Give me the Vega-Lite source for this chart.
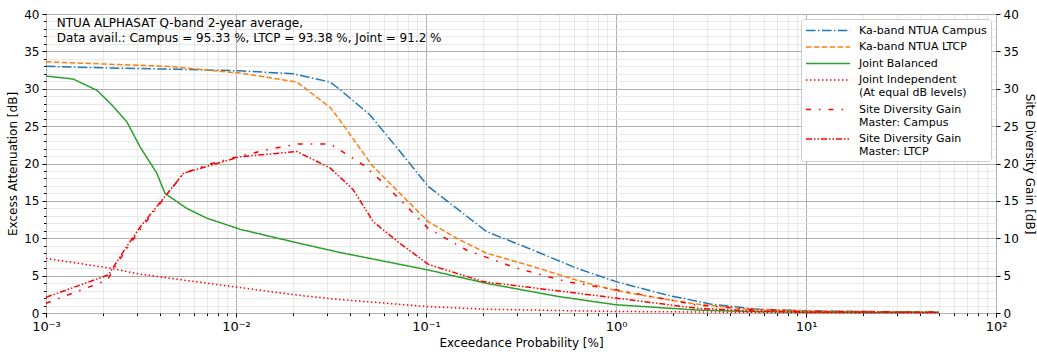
{
  "$schema": "https://vega.github.io/schema/vega-lite/v6.json",
  "width": 950,
  "height": 299,
  "autosize": {"type": "none"},
  "padding": {"left": 46, "top": 14, "right": 41, "bottom": 43},
  "background": "white",
  "datasets": {
    "curves": [
      {"series": "Ka-band NTUA Campus", "p": 0.001, "val": 33.0},
      {"series": "Ka-band NTUA Campus", "p": 0.002, "val": 32.8},
      {"series": "Ka-band NTUA Campus", "p": 0.005, "val": 32.6},
      {"series": "Ka-band NTUA Campus", "p": 0.0105, "val": 32.4},
      {"series": "Ka-band NTUA Campus", "p": 0.02, "val": 32.0},
      {"series": "Ka-band NTUA Campus", "p": 0.0313, "val": 30.9},
      {"series": "Ka-band NTUA Campus", "p": 0.0352, "val": 29.9},
      {"series": "Ka-band NTUA Campus", "p": 0.0507, "val": 26.5},
      {"series": "Ka-band NTUA Campus", "p": 0.073, "val": 21.6},
      {"series": "Ka-band NTUA Campus", "p": 0.103, "val": 16.9},
      {"series": "Ka-band NTUA Campus", "p": 0.145, "val": 14.0},
      {"series": "Ka-band NTUA Campus", "p": 0.208, "val": 10.9},
      {"series": "Ka-band NTUA Campus", "p": 0.367, "val": 8.4},
      {"series": "Ka-band NTUA Campus", "p": 0.62, "val": 6.0},
      {"series": "Ka-band NTUA Campus", "p": 1.0, "val": 4.2},
      {"series": "Ka-band NTUA Campus", "p": 1.85, "val": 2.4},
      {"series": "Ka-band NTUA Campus", "p": 3.13, "val": 1.2},
      {"series": "Ka-band NTUA Campus", "p": 5.5, "val": 0.5},
      {"series": "Ka-band NTUA Campus", "p": 10, "val": 0.3},
      {"series": "Ka-band NTUA Campus", "p": 20, "val": 0.2},
      {"series": "Ka-band NTUA Campus", "p": 50, "val": 0.1},

      {"series": "Ka-band NTUA LTCP", "p": 0.001, "val": 33.6},
      {"series": "Ka-band NTUA LTCP", "p": 0.0043, "val": 33.0},
      {"series": "Ka-band NTUA LTCP", "p": 0.0105, "val": 32.1},
      {"series": "Ka-band NTUA LTCP", "p": 0.0209, "val": 30.9},
      {"series": "Ka-band NTUA LTCP", "p": 0.0313, "val": 27.5},
      {"series": "Ka-band NTUA LTCP", "p": 0.0352, "val": 25.8},
      {"series": "Ka-band NTUA LTCP", "p": 0.0518, "val": 19.8},
      {"series": "Ka-band NTUA LTCP", "p": 0.073, "val": 16.0},
      {"series": "Ka-band NTUA LTCP", "p": 0.103, "val": 12.2},
      {"series": "Ka-band NTUA LTCP", "p": 0.145, "val": 10.0},
      {"series": "Ka-band NTUA LTCP", "p": 0.208, "val": 8.0},
      {"series": "Ka-band NTUA LTCP", "p": 0.367, "val": 6.2},
      {"series": "Ka-band NTUA LTCP", "p": 0.62, "val": 4.4},
      {"series": "Ka-band NTUA LTCP", "p": 1.0, "val": 3.0},
      {"series": "Ka-band NTUA LTCP", "p": 1.85, "val": 1.8},
      {"series": "Ka-band NTUA LTCP", "p": 2.66, "val": 1.2},
      {"series": "Ka-band NTUA LTCP", "p": 5, "val": 0.5},
      {"series": "Ka-band NTUA LTCP", "p": 10, "val": 0.3},
      {"series": "Ka-band NTUA LTCP", "p": 20, "val": 0.2},
      {"series": "Ka-band NTUA LTCP", "p": 50, "val": 0.1},

      {"series": "Joint Balanced", "p": 0.001, "val": 31.7},
      {"series": "Joint Balanced", "p": 0.00139, "val": 31.3},
      {"series": "Joint Balanced", "p": 0.00185, "val": 29.8},
      {"series": "Joint Balanced", "p": 0.00217, "val": 28.1},
      {"series": "Joint Balanced", "p": 0.00266, "val": 25.6},
      {"series": "Joint Balanced", "p": 0.00313, "val": 22.2},
      {"series": "Joint Balanced", "p": 0.00383, "val": 18.7},
      {"series": "Joint Balanced", "p": 0.00423, "val": 16.0},
      {"series": "Joint Balanced", "p": 0.0055, "val": 14.0},
      {"series": "Joint Balanced", "p": 0.007, "val": 12.7},
      {"series": "Joint Balanced", "p": 0.0105, "val": 11.2},
      {"series": "Joint Balanced", "p": 0.0209, "val": 9.4},
      {"series": "Joint Balanced", "p": 0.0352, "val": 8.1},
      {"series": "Joint Balanced", "p": 0.103, "val": 5.75},
      {"series": "Joint Balanced", "p": 0.208, "val": 3.97},
      {"series": "Joint Balanced", "p": 0.5, "val": 2.2},
      {"series": "Joint Balanced", "p": 1.0, "val": 1.1},
      {"series": "Joint Balanced", "p": 2.66, "val": 0.4},
      {"series": "Joint Balanced", "p": 5, "val": 0.2},
      {"series": "Joint Balanced", "p": 10, "val": 0.1},
      {"series": "Joint Balanced", "p": 50, "val": 0.05},

      {"series": "Joint Independent (At equal dB levels)", "p": 0.001, "val": 7.3},
      {"series": "Joint Independent (At equal dB levels)", "p": 0.00217, "val": 6.0},
      {"series": "Joint Independent (At equal dB levels)", "p": 0.00313, "val": 5.2},
      {"series": "Joint Independent (At equal dB levels)", "p": 0.0053, "val": 4.4},
      {"series": "Joint Independent (At equal dB levels)", "p": 0.0105, "val": 3.4},
      {"series": "Joint Independent (At equal dB levels)", "p": 0.0209, "val": 2.4},
      {"series": "Joint Independent (At equal dB levels)", "p": 0.0352, "val": 1.8},
      {"series": "Joint Independent (At equal dB levels)", "p": 0.103, "val": 0.85},
      {"series": "Joint Independent (At equal dB levels)", "p": 0.208, "val": 0.5},
      {"series": "Joint Independent (At equal dB levels)", "p": 1.0, "val": 0.2},
      {"series": "Joint Independent (At equal dB levels)", "p": 10, "val": 0.05},
      {"series": "Joint Independent (At equal dB levels)", "p": 50, "val": 0.02},

      {"series": "Site Diversity Gain Master: Campus", "p": 0.001, "val": 1.3},
      {"series": "Site Diversity Gain Master: Campus", "p": 0.0021, "val": 4.4},
      {"series": "Site Diversity Gain Master: Campus", "p": 0.00236, "val": 6.6},
      {"series": "Site Diversity Gain Master: Campus", "p": 0.00294, "val": 10.2},
      {"series": "Site Diversity Gain Master: Campus", "p": 0.00375, "val": 13.8},
      {"series": "Site Diversity Gain Master: Campus", "p": 0.0053, "val": 18.7},
      {"series": "Site Diversity Gain Master: Campus", "p": 0.007, "val": 19.8},
      {"series": "Site Diversity Gain Master: Campus", "p": 0.0105, "val": 21.0},
      {"series": "Site Diversity Gain Master: Campus", "p": 0.0157, "val": 22.0},
      {"series": "Site Diversity Gain Master: Campus", "p": 0.0209, "val": 22.6},
      {"series": "Site Diversity Gain Master: Campus", "p": 0.0313, "val": 22.6},
      {"series": "Site Diversity Gain Master: Campus", "p": 0.0352, "val": 21.8},
      {"series": "Site Diversity Gain Master: Campus", "p": 0.0468, "val": 19.8},
      {"series": "Site Diversity Gain Master: Campus", "p": 0.0596, "val": 17.4},
      {"series": "Site Diversity Gain Master: Campus", "p": 0.0824, "val": 13.8},
      {"series": "Site Diversity Gain Master: Campus", "p": 0.103, "val": 11.3},
      {"series": "Site Diversity Gain Master: Campus", "p": 0.164, "val": 8.4},
      {"series": "Site Diversity Gain Master: Campus", "p": 0.3, "val": 6.0},
      {"series": "Site Diversity Gain Master: Campus", "p": 0.55, "val": 4.2},
      {"series": "Site Diversity Gain Master: Campus", "p": 1.0, "val": 3.1},
      {"series": "Site Diversity Gain Master: Campus", "p": 2.66, "val": 1.07},
      {"series": "Site Diversity Gain Master: Campus", "p": 5, "val": 0.5},
      {"series": "Site Diversity Gain Master: Campus", "p": 10, "val": 0.2},
      {"series": "Site Diversity Gain Master: Campus", "p": 50, "val": 0.1},

      {"series": "Site Diversity Gain Master: LTCP", "p": 0.001, "val": 2.1},
      {"series": "Site Diversity Gain Master: LTCP", "p": 0.00213, "val": 5.1},
      {"series": "Site Diversity Gain Master: LTCP", "p": 0.00266, "val": 8.9},
      {"series": "Site Diversity Gain Master: LTCP", "p": 0.00313, "val": 11.5},
      {"series": "Site Diversity Gain Master: LTCP", "p": 0.00423, "val": 15.6},
      {"series": "Site Diversity Gain Master: LTCP", "p": 0.0053, "val": 18.7},
      {"series": "Site Diversity Gain Master: LTCP", "p": 0.0105, "val": 20.9},
      {"series": "Site Diversity Gain Master: LTCP", "p": 0.0209, "val": 21.6},
      {"series": "Site Diversity Gain Master: LTCP", "p": 0.0313, "val": 19.4},
      {"series": "Site Diversity Gain Master: LTCP", "p": 0.0414, "val": 16.5},
      {"series": "Site Diversity Gain Master: LTCP", "p": 0.0528, "val": 12.2},
      {"series": "Site Diversity Gain Master: LTCP", "p": 0.073, "val": 9.3},
      {"series": "Site Diversity Gain Master: LTCP", "p": 0.103, "val": 6.5},
      {"series": "Site Diversity Gain Master: LTCP", "p": 0.2, "val": 4.2},
      {"series": "Site Diversity Gain Master: LTCP", "p": 1.0, "val": 2.0},
      {"series": "Site Diversity Gain Master: LTCP", "p": 2.66, "val": 0.63},
      {"series": "Site Diversity Gain Master: LTCP", "p": 5, "val": 0.3},
      {"series": "Site Diversity Gain Master: LTCP", "p": 10, "val": 0.15},
      {"series": "Site Diversity Gain Master: LTCP", "p": 50, "val": 0.1}
    ]
  },
  "data": {"name": "curves"},
  "layer": [
    {
      "mark": {"type": "point", "opacity": 0},
      "encoding": {
        "x": {"field": "p", "type": "quantitative",
          "scale": {"type": "log", "domain": [0.001, 100], "nice": false},
          "axis": {"orient": "bottom", "values": [0.002,0.003,0.004,0.005,0.006,0.007,0.008,0.009,0.02,0.03,0.04,0.05,0.06,0.07,0.08,0.09,0.2,0.3,0.4,0.5,0.6,0.7,0.8,0.9,2,3,4,5,6,7,8,9,20,30,40,50,60,70,80,90],
            "grid": true, "gridColor": "#e3e3e3", "gridWidth": 0.8, "labels": false, "ticks": true, "tickSize": 2.5, "tickColor": "#000", "title": null}},
        "y": {"field": "val", "type": "quantitative",
          "scale": {"domain": [0, 40], "nice": false},
          "axis": {"orient": "left", "values": [1,2,3,4,6,7,8,9,11,12,13,14,16,17,18,19,21,22,23,24,26,27,28,29,31,32,33,34,36,37,38,39],
            "grid": true, "gridColor": "#e3e3e3", "gridWidth": 0.8, "labels": false, "ticks": true, "tickSize": 2.5, "tickColor": "#000", "title": null}}
      }
    },
    {
      "mark": {"type": "line", "strokeWidth": 1.5},
      "encoding": {
        "x": {"field": "p", "type": "quantitative",
          "scale": {"type": "log", "domain": [0.001, 100], "nice": false},
          "axis": {"orient": "bottom", "values": [0.001, 0.01, 0.1, 1, 10, 100],
            "labelExpr": "['10⁻³','10⁻²','10⁻¹','10⁰','10¹','10²'][round(log(datum.value)/LN10)+3]",
            "labelFlush": false, "labelFontSize": 13,
            "grid": true, "gridColor": "#b0b0b0", "gridWidth": 1, "tickSize": 4, "tickColor": "#000",
            "title": "Exceedance Probability [%]"}},
        "y": {"field": "val", "type": "quantitative",
          "scale": {"domain": [0, 40], "nice": false},
          "axis": {"orient": "left", "values": [0,5,10,15,20,25,30,35,40], "grid": true, "gridColor": "#b0b0b0", "gridWidth": 1, "tickSize": 4, "tickColor": "#000",
            "labelFlush": false, "title": "Excess Attenuation [dB]"}},
        "color": {"field": "series", "type": "nominal",
          "scale": {"domain": ["Ka-band NTUA Campus", "Ka-band NTUA LTCP", "Joint Balanced", "Joint Independent (At equal dB levels)", "Site Diversity Gain Master: Campus", "Site Diversity Gain Master: LTCP"],
            "range": ["#1f77b4", "#ff7f0e", "#2ca02c", "#ff0000", "#ff0000", "#ff0000"]},
          "legend": {"title": null,
            "labelExpr": "datum.label == 'Joint Independent (At equal dB levels)' ? ['Joint Independent', '(At equal dB levels)'] : datum.label == 'Site Diversity Gain Master: Campus' ? ['Site Diversity Gain', 'Master: Campus'] : datum.label == 'Site Diversity Gain Master: LTCP' ? ['Site Diversity Gain', 'Master: LTCP'] : datum.label"}},
        "strokeDash": {"field": "series", "type": "nominal",
          "scale": {"domain": ["Ka-band NTUA Campus", "Ka-band NTUA LTCP", "Joint Balanced", "Joint Independent (At equal dB levels)", "Site Diversity Gain Master: Campus", "Site Diversity Gain Master: LTCP"],
            "range": [[9.6, 2.4, 1.5, 2.4], [5.5, 2.4], [1, 0], [1.5, 2.5], [5, 8, 1.5, 8], [6, 2, 1.5, 2, 1.5, 2]]},
          "legend": {"title": null,
            "labelExpr": "datum.label == 'Joint Independent (At equal dB levels)' ? ['Joint Independent', '(At equal dB levels)'] : datum.label == 'Site Diversity Gain Master: Campus' ? ['Site Diversity Gain', 'Master: Campus'] : datum.label == 'Site Diversity Gain Master: LTCP' ? ['Site Diversity Gain', 'Master: LTCP'] : datum.label"}}
      }
    },
    {
      "mark": {"type": "point", "opacity": 0},
      "encoding": {
        "x": {"field": "p", "type": "quantitative", "scale": {"type": "log", "domain": [0.001, 100], "nice": false}, "axis": null},
        "y": {"field": "val", "type": "quantitative", "scale": {"domain": [0, 40], "nice": false},
          "axis": {"orient": "right", "values": [0,5,10,15,20,25,30,35,40], "grid": false, "tickSize": 4, "tickColor": "#000",
            "labelFlush": false, "title": "Site Diversity Gain [dB]"}}
      }
    },
    {
      "data": {"values": [{"label": "annotation"}]},
      "mark": {"type": "text", "align": "left", "baseline": "top", "font": "DejaVu Sans", "fontSize": 12, "lineHeight": 15, "color": "#000"},
      "encoding": {
        "x": {"datum": 0.00114, "type": "quantitative", "scale": {"type": "log", "domain": [0.001, 100], "nice": false}, "axis": null},
        "y": {"datum": 39.5, "type": "quantitative", "scale": {"domain": [0, 40], "nice": false}, "axis": null},
        "text": {"value": ["NTUA ALPHASAT Q-band 2-year average,", "Data avail.: Campus = 95.33 %, LTCP = 93.38 %, Joint = 91.2 %"]}
      }
    }
  ],
  "resolve": {"axis": {"x": "independent", "y": "independent"}},
  "config": {
    "view": {"stroke": "#000", "strokeWidth": 1},
    "axis": {"labelFont": "DejaVu Sans", "labelFontSize": 12, "labelColor": "#000", "titleFont": "DejaVu Sans", "titleFontSize": 12, "titleFontWeight": "normal", "titleColor": "#000", "domain": false, "labelPadding": 3},
    "legend": {"orient": "top-right", "offset": 5, "fillColor": "white", "strokeColor": "#cccccc", "cornerRadius": 3, "padding": 4,
      "symbolType": "M-1,0H5.8", "symbolSize": 169, "symbolStrokeWidth": 1.5, "labelFont": "DejaVu Sans", "labelFontSize": 11, "labelColor": "#000",
      "labelOffset": 39, "rowPadding": 3.5, "labelLimit": 300}
  }
}
